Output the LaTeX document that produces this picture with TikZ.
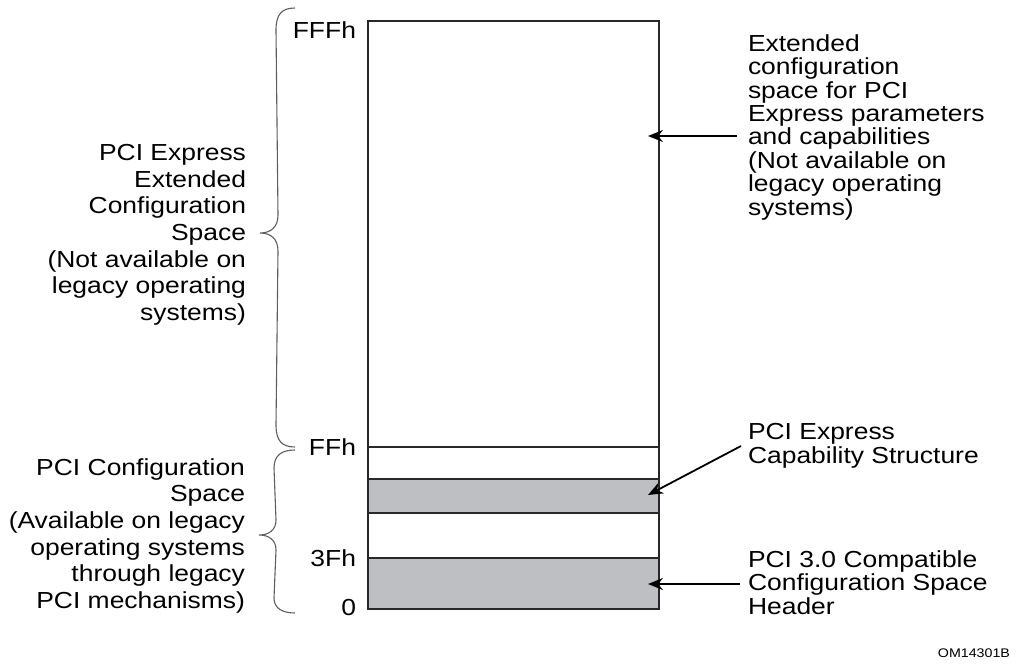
\documentclass[tikz,border=0pt]{standalone}
\usepackage{fontspec}
\setmainfont[FakeStretch=1.14]{Liberation Sans}
\usetikzlibrary{arrows.meta}
\definecolor{bandgray}{RGB}{190,191,194}
\definecolor{boxline}{RGB}{40,40,40}
\definecolor{bracegray}{RGB}{95,95,95}
\begin{document}
\begin{tikzpicture}[x=1pt,y=-1pt,
  every node/.style={inner sep=0pt,outer sep=0pt},
  lbl/.style={font={\fontsize{23.2}{26.6}\selectfont\lineskiplimit=-100pt},align=right,anchor=north east},
  rlbl/.style={font={\fontsize{23.2}{23.4}\selectfont\lineskiplimit=-100pt},align=left,anchor=north west},
  hex/.style={font=\fontsize{23.2}{26}\selectfont,anchor=base east},
  arr/.style={line width=1.8pt,-{Stealth[length=15pt,width=12pt,inset=5pt]}},
  bracestyle/.style={draw=bracegray,line width=1.1pt},
  frame/.style={draw=boxline,line width=1.6pt}]
\useasboundingbox[fill=white] (0,0) rectangle (1023,664);

% memory map
\node[frame,fill=white,minimum width=291pt,minimum height=588pt,anchor=north west] (space) at (368,21) {};
\draw[frame] (368,447) -- (659,447);
\node[frame,fill=bandgray,minimum width=291pt,minimum height=34pt,anchor=north west] (capstruct) at (368,479) {};
\node[frame,fill=bandgray,minimum width=291pt,minimum height=51pt,anchor=north west] (header) at (368,558) {};

% offsets
\node[hex] (fffh) at (356,38.5) {FFFh};
\node[hex] (ffh) at (356,455.5) {FFh};
\node[hex] (threefh) at (356,566.5) {3Fh};
\node[hex] (zero) at (356,615.5) {0};

% braces
\draw[bracestyle] (295,8) .. controls (282,8) and (276,14) .. (276,30)
  -- (278,215) .. controls (278,227) and (271,233) .. (260,233)
  .. controls (271,233) and (278,239) .. (278,251)
  -- (276,425) .. controls (276,441) and (282,447) .. (295,447);
\draw[bracestyle] (295,450) .. controls (282,450) and (274,455) .. (274,468)
  -- (276,520) .. controls (276,530) and (269,535) .. (259,535)
  .. controls (269,535) and (276,540) .. (276,550)
  -- (274,598) .. controls (274,608) and (282,613) .. (295,613);

% left labels
\node[lbl] (extlbl) at (246,144.5) {PCI Express\\Extended\\Configuration\\Space\\(Not available on\\legacy operating\\systems)};
\node[lbl] (cfglbl) at (245,458.5) {PCI Configuration\\Space\\(Available on legacy\\operating systems \\through legacy\\PCI mechanisms)};

% right labels
\node[rlbl] (extdesc) at (748,34.5) {Extended\\configuration\\space for PCI\\Express parameters\\and capabilities\\(Not available on\\legacy operating\\systems)};
\node[rlbl] (capdesc) at (748,423.5) {PCI Express\\Capability Structure};
\node[rlbl] (hdrdesc) at (748,550.5) {PCI 3.0 Compatible\\Configuration Space\\Header};

% arrows
\coordinate (a1s) at (737,136);
\coordinate (a1e) at (648,136);
\coordinate (a2s) at (741,446);
\coordinate (a2e) at (648,495);
\coordinate (a3s) at (740,584);
\coordinate (a3e) at (648,584);
\draw[arr] (a1s) -- (a1e);
\draw[arr] (a2s) -- (a2e);
\draw[arr] (a3s) -- (a3e);

% figure id
\node[font=\fontsize{12.5}{15}\selectfont,anchor=base east] (figid) at (1010,657) {OM14301B};
\end{tikzpicture}
\end{document}
